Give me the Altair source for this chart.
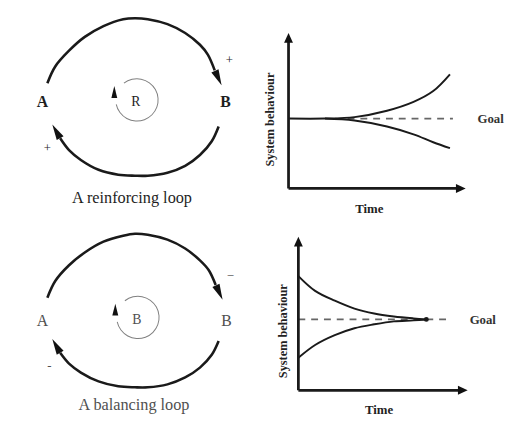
import altair as alt
import pandas as pd

# ---------------- diagram canvas: reference picture coordinates ----------------
# Reinforcing loop (top-left)
r_top_x = [48, 56, 70, 86, 105, 125, 137, 150, 170, 188, 203, 211, 218]
r_top_y = [81, 64, 48, 34, 23, 16, 15, 16, 21, 30, 42, 52, 68]
r_bot_x = [222, 215, 203, 188, 170, 150, 137, 120, 100, 82, 70, 61]
r_bot_y = [125, 140, 154, 165, 172, 175, 175, 174, 169, 159, 149, 137]

# Balancing loop (bottom-left)
b_top_x = [48, 56, 70, 86, 105, 125, 137, 150, 170, 188, 203, 212, 219]
b_top_y = [299, 282, 266, 253, 242, 236, 234, 235, 240, 249, 261, 271, 286]
b_bot_x = [222, 215, 203, 188, 170, 150, 137, 120, 100, 82, 70, 61]
b_bot_y = [343, 357, 370, 380, 387, 390, 390, 389, 384, 375, 366, 355]

# Loop arrowheads (tip x, tip y, heading in degrees clockwise from up)
loop_arrow_x = [225, 53, 226, 53]
loop_arrow_y = [83, 123, 301, 341]
loop_arrow_angle = [155, 330, 155, 330]

# Small inner loops (centre, start/end heading)
inner_x = [139, 140]
inner_y = [98, 319]
inner_start_deg = [322, 322]
inner_end_deg = [618, 618]
inner_arrow_x = [116, 117]
inner_arrow_y = [84, 305]

# Behaviour graphs: axes
axis_x = [[293, 293], [293, 464], [303, 303], [303, 466]]
axis_y = [[188, 38], [188, 188], [393, 245], [393, 393]]
axis_arrow_x = [293, 473, 303, 475]
axis_arrow_y = [30, 188, 237, 393]
axis_arrow_angle = [0, 90, 0, 90]

# Reinforcing behaviour
grow_x = [293, 330, 360, 393, 420, 440, 457]
grow_y = [117, 117, 115.5, 109, 100, 89, 72]
decline_x = [330, 360, 393, 420, 440, 457]
decline_y = [117, 119, 125, 133, 141, 147]
goal1_x = [340, 460]
goal1_y = [117, 117]

# Balancing behaviour
approach_hi_x = [303, 320, 340, 360, 380, 400, 420, 433]
approach_hi_y = [277, 292, 302, 310, 315, 318, 320, 321]
approach_lo_x = [303, 320, 340, 360, 380, 400, 420, 433]
approach_lo_y = [360, 347, 337, 330, 326, 323, 322, 321]
goal2_x = [303, 457]
goal2_y = [321, 321]
meet_x = [433]
meet_y = [321]

# Texts
big_text = ["A", "B", "A", "B"]
big_x = [43, 229, 43, 230]
big_y = [100, 100, 323, 323]
big_panel = ["top", "top", "bottom", "bottom"]

loop_letter = ["R", "B"]
loop_letter_x = [138, 139]
loop_letter_y = [100, 322]
loop_letter_panel = ["top", "bottom"]

sign_text = ["+", "+", "\u2212", "-"]
sign_x = [233, 48, 234, 50]
sign_y = [58, 147, 277, 368]
sign_panel = ["top", "top", "bottom", "bottom"]

title_text = ["A reinforcing loop", "A balancing loop"]
title_x = [134, 136]
title_y = [198, 408]
title_panel = ["top", "bottom"]

ylab_text = ["System behaviour", "System behaviour"]
ylab_x = [274, 287]
ylab_y = [118, 333]

xlab_text = ["Time", "Time"]
xlab_x = [375, 385]
xlab_y = [209, 413]

goal_text = ["Goal", "Goal"]
goal_x = [485, 477]
goal_y = [117, 322]

# ---------------- build tables ----------------
def paths(items):
    rows = []
    for name, xs, ys in items:
        for i, (x, y) in enumerate(zip(xs, ys)):
            rows.append({"path": name, "i": i, "x": x, "y": y})
    return pd.DataFrame(rows)

loops_df = paths([("rt", r_top_x, r_top_y), ("rb", r_bot_x, r_bot_y),
                  ("bt", b_top_x, b_top_y), ("bb", b_bot_x, b_bot_y)])
axes_df = paths([("a%d" % k, axis_x[k], axis_y[k]) for k in range(len(axis_x))])
curves_df = paths([("g", grow_x, grow_y), ("d", decline_x, decline_y),
                   ("h", approach_hi_x, approach_hi_y), ("l", approach_lo_x, approach_lo_y)])
goals_df = paths([("g1", goal1_x, goal1_y), ("g2", goal2_x, goal2_y)])

loop_arrows = pd.DataFrame({"x": loop_arrow_x, "y": loop_arrow_y, "angle": loop_arrow_angle})
axis_arrows = pd.DataFrame({"x": axis_arrow_x, "y": axis_arrow_y, "angle": axis_arrow_angle})
inner_df = pd.DataFrame({"x": inner_x, "y": inner_y,
                         "t0": [d * 3.141592653589793 / 180 for d in inner_start_deg],
                         "t1": [d * 3.141592653589793 / 180 for d in inner_end_deg]})
inner_arrows = pd.DataFrame({"x": inner_arrow_x, "y": inner_arrow_y})
meet_df = pd.DataFrame({"x": meet_x, "y": meet_y})

big_df = pd.DataFrame({"x": big_x, "y": big_y, "t": big_text, "panel": big_panel})
letter_df = pd.DataFrame({"x": loop_letter_x, "y": loop_letter_y, "t": loop_letter, "panel": loop_letter_panel})
sign_df = pd.DataFrame({"x": sign_x, "y": sign_y, "t": sign_text, "panel": sign_panel})
title_df = pd.DataFrame({"x": title_x, "y": title_y, "t": title_text, "panel": title_panel})
ylab_df = pd.DataFrame({"x": ylab_x, "y": ylab_y, "t": ylab_text})
xlab_df = pd.DataFrame({"x": xlab_x, "y": xlab_y, "t": xlab_text})
goal_df = pd.DataFrame({"x": goal_x, "y": goal_y, "t": goal_text})

W, H = 510, 422
X = alt.X("x:Q", scale=alt.Scale(domain=[8, 8 + W], nice=False, zero=False), axis=None)
Y = alt.Y("y:Q", scale=alt.Scale(domain=[8, 8 + H], nice=False, zero=False, reverse=True), axis=None)
panel_color = alt.Color("panel:N", scale=alt.Scale(domain=["top", "bottom"], range=["#1e1e1e", "#505050"]), legend=None)

LOOP_HEAD = "M0,0L0.5,2L-0.5,2Z"
AXIS_HEAD = "M0,0L0.5,1.1L-0.5,1.1Z"
SERIF = "Liberation Serif"

loops = alt.Chart(loops_df).mark_line(color="#1a1a1a", strokeWidth=2.6, interpolate="catmull-rom").encode(
    x=X, y=Y, detail="path:N", order="i:Q")
axes = alt.Chart(axes_df).mark_line(color="#1a1a1a", strokeWidth=2.8).encode(
    x=X, y=Y, detail="path:N", order="i:Q")
curves = alt.Chart(curves_df).mark_line(color="#1a1a1a", strokeWidth=2.0, interpolate="catmull-rom").encode(
    x=X, y=Y, detail="path:N", order="i:Q")
goals = alt.Chart(goals_df).mark_line(color="#666666", strokeWidth=1.6, strokeDash=[7, 6]).encode(
    x=X, y=Y, detail="path:N", order="i:Q")

loop_heads = alt.Chart(loop_arrows).mark_point(shape=LOOP_HEAD, filled=True, color="#111111", opacity=1, size=256).encode(
    x=X, y=Y, angle=alt.Angle("angle:Q", scale=None))
axis_heads = alt.Chart(axis_arrows).mark_point(shape=AXIS_HEAD, filled=True, color="#111111", opacity=1, size=324).encode(
    x=X, y=Y, angle=alt.Angle("angle:Q", scale=None))

inner = alt.Chart(inner_df).mark_arc(color="#808080", radius=22, radius2=21).encode(
    x=X, y=Y,
    theta=alt.Theta("t0:Q", scale=None, stack=False),
    theta2=alt.Theta2("t1:Q"))
inner_heads = alt.Chart(inner_arrows).mark_point(shape=LOOP_HEAD, filled=True, color="#111111", opacity=1, size=144).encode(
    x=X, y=Y)
meet = alt.Chart(meet_df).mark_point(shape="circle", filled=True, color="#1a1a1a", opacity=1, size=25).encode(x=X, y=Y)

big_top = alt.Chart(big_df).transform_filter(alt.datum.panel == "top").mark_text(
    font=SERIF, fontSize=16, fontWeight="bold", baseline="middle").encode(x=X, y=Y, text="t:N", color=panel_color)
big_bot = alt.Chart(big_df).transform_filter(alt.datum.panel == "bottom").mark_text(
    font=SERIF, fontSize=16, baseline="middle").encode(x=X, y=Y, text="t:N", color=panel_color)
letters = alt.Chart(letter_df).mark_text(font=SERIF, fontSize=14, baseline="middle").encode(
    x=X, y=Y, text="t:N", color=panel_color)
signs = alt.Chart(sign_df).mark_text(font=SERIF, fontSize=13, baseline="middle").encode(
    x=X, y=Y, text="t:N", color=panel_color)
titles = alt.Chart(title_df).mark_text(font=SERIF, fontSize=16.5, baseline="middle").encode(
    x=X, y=Y, text="t:N", color=panel_color)
ylabs = alt.Chart(ylab_df).mark_text(font=SERIF, fontSize=12.5, fontWeight="bold", angle=270, baseline="middle",
                                     color="#222222").encode(x=X, y=Y, text="t:N")
xlabs = alt.Chart(xlab_df).mark_text(font=SERIF, fontSize=13, fontWeight="bold", baseline="middle",
                                     color="#222222").encode(x=X, y=Y, text="t:N")
goals_t = alt.Chart(goal_df).mark_text(font=SERIF, fontSize=13, fontWeight="bold", baseline="middle", align="left",
                                       color="#333333").encode(x=X, y=Y, text="t:N")

chart = alt.layer(
    goals, loops, axes, curves, inner, loop_heads, axis_heads, inner_heads, meet,
    big_top, big_bot, letters, signs, titles, ylabs, xlabs, goals_t
).properties(
    width=W, height=H, padding=0, autosize=alt.AutoSizeParams(type="none"), background="white"
).configure_view(stroke=None)

chart.save("out.html", embed_options={"renderer": "svg", "actions": False})
